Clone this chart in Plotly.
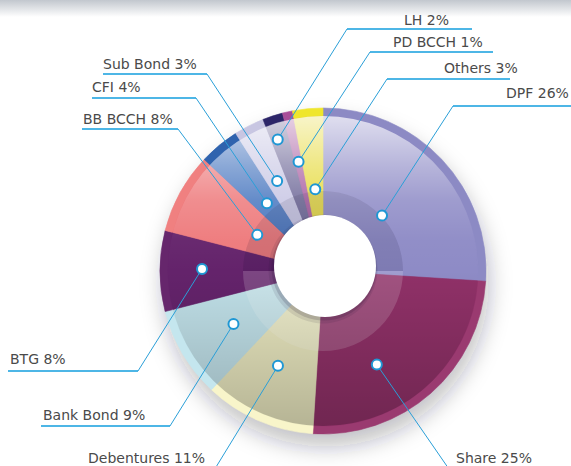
import math
import base64
import plotly.graph_objects as go

W, H = 571, 466

# ---------------- data ----------------
categories = ["DPF", "Share", "Debentures", "Bank Bond", "BTG", "BB BCCH",
              "CFI", "Sub Bond", "LH", "PD BCCH", "Others"]
shares = [26, 25, 11, 9, 8, 8, 4, 3, 2, 1, 3]
label_texts = [f"{c} {v}%" for c, v in zip(categories, shares)]

# ---------------- styles ----------------
body_colors = ["#8e8bc6", "#903168", "#e9e7bf", "#c0e0e8", "#64236b", "#ee7a7c",
               "#4a78c0", "#c8c6e4", "#6e6898", "#a85ca0", "#e6da3e"]
rim_colors = ["#8c8ac4", "#9a3a70", "#f8f5ca", "#c4e6ee", "#66266c", "#f08080",
              "#2f63ae", "#c8c6e2", "#2c2568", "#a94e99", "#efe62c"]

CX, CY = 323, 271          # pie centre (px)
R_OUT, RIM = 163, 8        # outer radius, rim width
R_SHADE = 80               # inner shading ring
HX, HY, HR = 325, 266, 51  # white centre disk

# leader layout (pixels): dot radius from centre, angle tweak, elbow, underline, text anchor
dot_r = [81, 108, 105, 104, 121, 75, 88, 101, 139, 112, 82]
dot_da = [0, 11.5, 2, 0, 1, 0, 0, 0, -1, 0, 0]
underline = [(453, 575, 106), (451, 560, 472), (70, 213, 472), (41, 170, 426),
             (8, 138, 371), (82, 178, 129), (92, 196, 98), (103, 207, 74),
             (347, 472, 29), (370, 493, 52), (387, 510, 79)]
elbow_side = ["L", "L", "R", "R", "R", "R", "R", "R", "L", "L", "L"]
text_pos = [(506, 93), (456, 458), (88, 458), (43, 415), (10, 359), (83, 119),
            (92, 87), (103, 64), (404, 20), (393, 42), (444, 68)]

LINE_C = "#2a9fd8"
UNDER_C = "#4db6e6"
TEXT_C = "#4a4a4a"


def px(x):
    return x / W


def py(y):
    return 1 - y / H


def dom(cx, cy, r):
    return dict(x=[px(cx - r), px(cx + r)], y=[py(cy + r), py(cy - r)])


fig = go.Figure()

common = dict(sort=False, direction="clockwise", rotation=0, textinfo="none",
              hoverinfo="skip", showlegend=False)

# rim
fig.add_trace(go.Pie(labels=categories, values=shares, domain=dom(CX, CY, R_OUT),
                     marker=dict(colors=rim_colors, line=dict(color=rim_colors, width=0.6)),
                     **common))
# body
fig.add_trace(go.Pie(labels=categories, values=shares, domain=dom(CX, CY, R_OUT - RIM),
                     marker=dict(colors=body_colors, line=dict(color=body_colors, width=0.6)),
                     **common))
# inner shading ring (upper half darker, lower half lighter)
fig.add_trace(go.Pie(labels=["a", "b"], values=[1, 1], domain=dom(CX, CY, R_SHADE),
                     sort=False, direction="clockwise", rotation=-90, textinfo="none",
                     hoverinfo="skip", showlegend=False,
                     marker=dict(colors=["rgba(20,10,40,0.12)", "rgba(255,255,255,0.16)"],
                                 line=dict(width=0))))
# hole shadow + white centre
fig.add_trace(go.Pie(labels=["s"], values=[1], domain=dom(HX - 2, HY + 3, HR + 3.5),
                     textinfo="none", hoverinfo="skip", showlegend=False,
                     marker=dict(colors=["rgba(30,20,50,0.10)"], line=dict(width=0))))
fig.add_trace(go.Pie(labels=["s2"], values=[1], domain=dom(HX - 1, HY + 2, HR + 1.5),
                     textinfo="none", hoverinfo="skip", showlegend=False,
                     marker=dict(colors=["rgba(30,20,50,0.16)"], line=dict(width=0))))
fig.add_trace(go.Pie(labels=["h"], values=[1], domain=dom(HX, HY, HR),
                     textinfo="none", hoverinfo="skip", showlegend=False,
                     marker=dict(colors=["#ffffff"], line=dict(width=0))))

# ---------------- decorative svg layers ----------------
RB = R_OUT - RIM
below_svg = f'''<svg xmlns="http://www.w3.org/2000/svg" width="{W}" height="{H}" viewBox="0 0 {W} {H}" preserveAspectRatio="none">
<defs>
<filter id="b" x="-50%" y="-50%" width="200%" height="200%"><feGaussianBlur stdDeviation="11"/></filter>
<linearGradient id="t" x1="0" y1="0" x2="0" y2="1"><stop offset="0" stop-color="#c2c7ce"/><stop offset="1" stop-color="#ffffff"/></linearGradient>
</defs>
<rect x="0" y="0" width="{W}" height="17" fill="url(#t)"/>
<circle cx="{CX + 3}" cy="{CY + 13}" r="{R_OUT}" fill="#1a1a2a" fill-opacity="0.28" filter="url(#b)"/>
</svg>'''

above_svg = f'''<svg xmlns="http://www.w3.org/2000/svg" width="{W}" height="{H}" viewBox="0 0 {W} {H}" preserveAspectRatio="none">
<defs><linearGradient id="g" gradientUnits="userSpaceOnUse" x1="0" y1="{CY - RB}" x2="0" y2="{CY + RB}">
<stop offset="0" stop-color="#ffffff" stop-opacity="0.72"/>
<stop offset="0.16" stop-color="#ffffff" stop-opacity="0.36"/>
<stop offset="0.27" stop-color="#ffffff" stop-opacity="0.15"/>
<stop offset="0.40" stop-color="#ffffff" stop-opacity="0.03"/>
<stop offset="0.50" stop-color="#ffffff" stop-opacity="0"/>
<stop offset="0.50" stop-color="#000000" stop-opacity="0"/>
<stop offset="1" stop-color="#000000" stop-opacity="0.22"/>
</linearGradient></defs>
<path fill-rule="evenodd" fill="url(#g)" d="M {CX - RB},{CY} a {RB},{RB} 0 1,0 {2 * RB},0 a {RB},{RB} 0 1,0 {-2 * RB},0 Z M {HX - HR},{HY} a {HR},{HR} 0 1,0 {2 * HR},0 a {HR},{HR} 0 1,0 {-2 * HR},0 Z"/>
</svg>'''


def uri(s):
    return "data:image/svg+xml;base64," + base64.b64encode(s.encode()).decode()


images = [
    dict(source=uri(below_svg), xref="paper", yref="paper", x=0, y=1, sizex=1, sizey=1,
         xanchor="left", yanchor="top", sizing="stretch", layer="below"),
    dict(source=uri(above_svg), xref="paper", yref="paper", x=0, y=1, sizex=1, sizey=1,
         xanchor="left", yanchor="top", sizing="stretch", layer="above"),
]

# ---------------- leaders, dots, labels ----------------
shapes = []
annotations = []
cum = 0
for i, v in enumerate(shares):
    mid = (cum + v / 2) / sum(shares) * 360 + dot_da[i]
    cum += v
    a = math.radians(mid)
    dx = CX + dot_r[i] * math.sin(a)
    dy = CY - dot_r[i] * math.cos(a)
    xa, xb, uy = underline[i]
    ex = xa if elbow_side[i] == "L" else xb
    shapes.append(dict(type="line", xref="paper", yref="paper", layer="above",
                       x0=px(xa), x1=px(xb), y0=py(uy), y1=py(uy),
                       line=dict(color=UNDER_C, width=1.8)))
    shapes.append(dict(type="line", xref="paper", yref="paper", layer="above",
                       x0=px(ex), y0=py(uy), x1=px(dx), y1=py(dy),
                       line=dict(color=LINE_C, width=1)))
    rr = 5
    shapes.append(dict(type="circle", xref="paper", yref="paper", layer="above",
                       x0=px(dx - rr), x1=px(dx + rr), y0=py(dy + rr), y1=py(dy - rr),
                       fillcolor="#ffffff", line=dict(color="#1f97d4", width=2)))
    tx, ty = text_pos[i]
    annotations.append(dict(text=label_texts[i], xref="paper", yref="paper",
                            x=px(tx), y=py(ty), xanchor="left", yanchor="middle",
                            showarrow=False, borderpad=0, borderwidth=0,
                            font=dict(family="DejaVu Sans", size=14, color=TEXT_C)))

fig.update_layout(width=W, height=H, autosize=False,
                  margin=dict(l=0, r=0, t=0, b=0, pad=0),
                  paper_bgcolor="#ffffff", plot_bgcolor="#ffffff",
                  images=images, shapes=shapes, annotations=annotations,
                  showlegend=False)

fig.write_html("out.html", config={"displayModeBar": False, "staticPlot": True},
               post_script="document.body.style.margin='0';document.body.style.overflow='hidden';")
